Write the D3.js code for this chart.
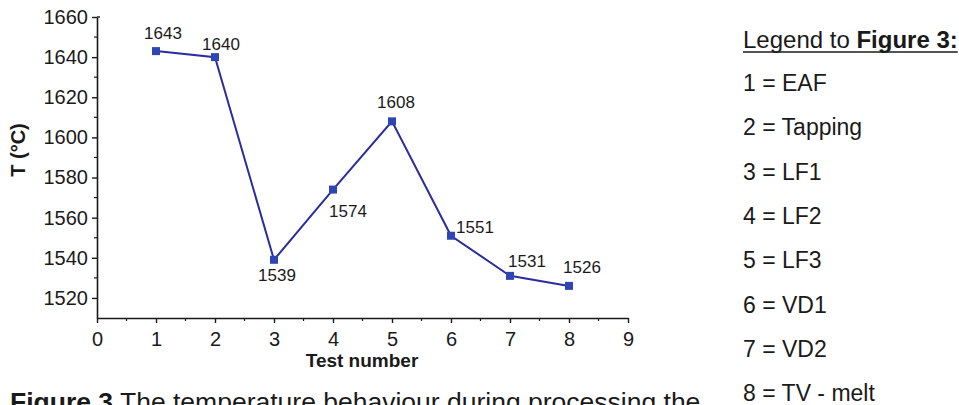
<!DOCTYPE html>
<html><head><meta charset="utf-8">
<script src="https://cdn.jsdelivr.net/npm/d3@7"></script>
<style>
html,body{margin:0;padding:0;background:#fff;}
svg{display:block;font-family:"Liberation Sans",Arial,sans-serif;}
</style></head>
<body>
<svg id="c" width="959" height="405"></svg>
<script>
const testNumbers = [1,2,3,4,5,6,7,8];
const temperatures = [1643,1640,1539,1574,1608,1551,1531,1526];
const xTicks = [0,1,2,3,4,5,6,7,8,9];
const yTicks = [1520,1540,1560,1580,1600,1620,1640,1660];
const legendItems = ["1 = EAF","2 = Tapping","3 = LF1","4 = LF2","5 = LF3","6 = VD1","7 = VD2","8 = TV - melt"];
// label offsets (placement only)
const labelOffsets = [[7,-12],[6,-7],[3,21],[15,27],[4,-13],[24,-3],[17,-9],[13,-13]];

const svg = d3.select("#c");
const x = d3.scaleLinear().domain([0,9]).range([97,628]);
const y = d3.scaleLinear().domain([1510,1660]).range([318,17]);
const ink = "#1a1a1a";

// y axis
const yAxis = d3.axisLeft(y).tickValues(yTicks).tickFormat(d3.format("d")).tickSize(5).tickSizeOuter(0).tickPadding(4);
const gy = svg.append("g").attr("transform","translate(97,0)").call(yAxis);
gy.select(".domain").attr("stroke",ink).attr("stroke-width",1.6);
gy.selectAll(".tick line").attr("stroke",ink).attr("stroke-width",1.4);
gy.selectAll(".tick text").attr("font-size",20).attr("fill",ink).attr("font-family","Liberation Sans, Arial");
// y minor
const yMinor = d3.range(1530,1660,20);
svg.append("g").selectAll("line").data(yMinor).join("line")
  .attr("x1",94).attr("x2",97).attr("y1",d=>y(d)).attr("y2",d=>y(d))
  .attr("stroke",ink).attr("stroke-width",1.2);
// small stub at top
svg.append("line").attr("x1",97).attr("x2",100).attr("y1",y(1660)).attr("y2",y(1660)).attr("stroke",ink).attr("stroke-width",1.4);

// x axis
const xAxis = d3.axisBottom(x).tickValues(xTicks).tickFormat(d3.format("d")).tickSize(5).tickSizeOuter(0).tickPadding(9);
const gx = svg.append("g").attr("transform","translate(0,318)").call(xAxis);
gx.select(".domain").attr("stroke",ink).attr("stroke-width",1.6);
gx.selectAll(".tick line").attr("stroke",ink).attr("stroke-width",1.4);
gx.selectAll(".tick text").attr("font-size",20).attr("fill",ink).attr("font-family","Liberation Sans, Arial");
const xMinor = d3.range(0.5,9,1);
svg.append("g").selectAll("line").data(xMinor).join("line")
  .attr("x1",d=>x(d)).attr("x2",d=>x(d)).attr("y1",318).attr("y2",321)
  .attr("stroke",ink).attr("stroke-width",1.2);

// axis titles
svg.append("text").attr("x",362).attr("y",367).attr("text-anchor","middle")
  .attr("font-size",19).attr("font-weight","bold").attr("fill",ink).text("Test number");
svg.append("text").attr("transform","translate(25,150) rotate(-90)").attr("text-anchor","middle")
  .attr("font-size",20).attr("font-weight","bold").attr("fill",ink).text("T (°C)");

// line
const pts = testNumbers.map((t,i)=>({t,v:temperatures[i],o:labelOffsets[i]}));
svg.append("path").datum(pts)
  .attr("d",d3.line().x(d=>x(d.t)).y(d=>y(d.v)))
  .attr("fill","none").attr("stroke","#2a2d9c").attr("stroke-width",2);
svg.append("g").selectAll("rect").data(pts).join("rect")
  .attr("x",d=>x(d.t)-4).attr("y",d=>y(d.v)-4).attr("width",8).attr("height",8)
  .attr("fill","#2f45b3");
svg.append("g").selectAll("text").data(pts).join("text")
  .attr("x",d=>x(d.t)+d.o[0]).attr("y",d=>y(d.v)+d.o[1])
  .attr("text-anchor","middle").attr("font-size",17).attr("fill",ink)
  .text(d=>d.v);

// legend
const lg = svg.append("g").attr("font-size",23).attr("fill",ink);
const head = lg.append("text").attr("x",743).attr("y",48).attr("font-size",24);
head.append("tspan").text("Legend to ");
head.append("tspan").attr("font-weight","bold").text("Figure 3:");
const hb = head.node().getBBox();
lg.append("line").attr("x1",743).attr("x2",hb.x+hb.width).attr("y1",52).attr("y2",52)
  .attr("stroke",ink).attr("stroke-width",1.5);
lg.selectAll("text.item").data(legendItems).join("text").attr("class","item")
  .attr("x",743).attr("y",(d,i)=>91+i*44.3).text(d=>d);

// caption (cut off at bottom, as in the reference)
const cap = svg.append("text").attr("x",10).attr("y",411).attr("font-size",26.5).attr("fill",ink);
cap.append("tspan").attr("font-weight","bold").text("Figure 3");
cap.append("tspan").text(" The temperature behaviour during processing the");
</script>
</body></html>
